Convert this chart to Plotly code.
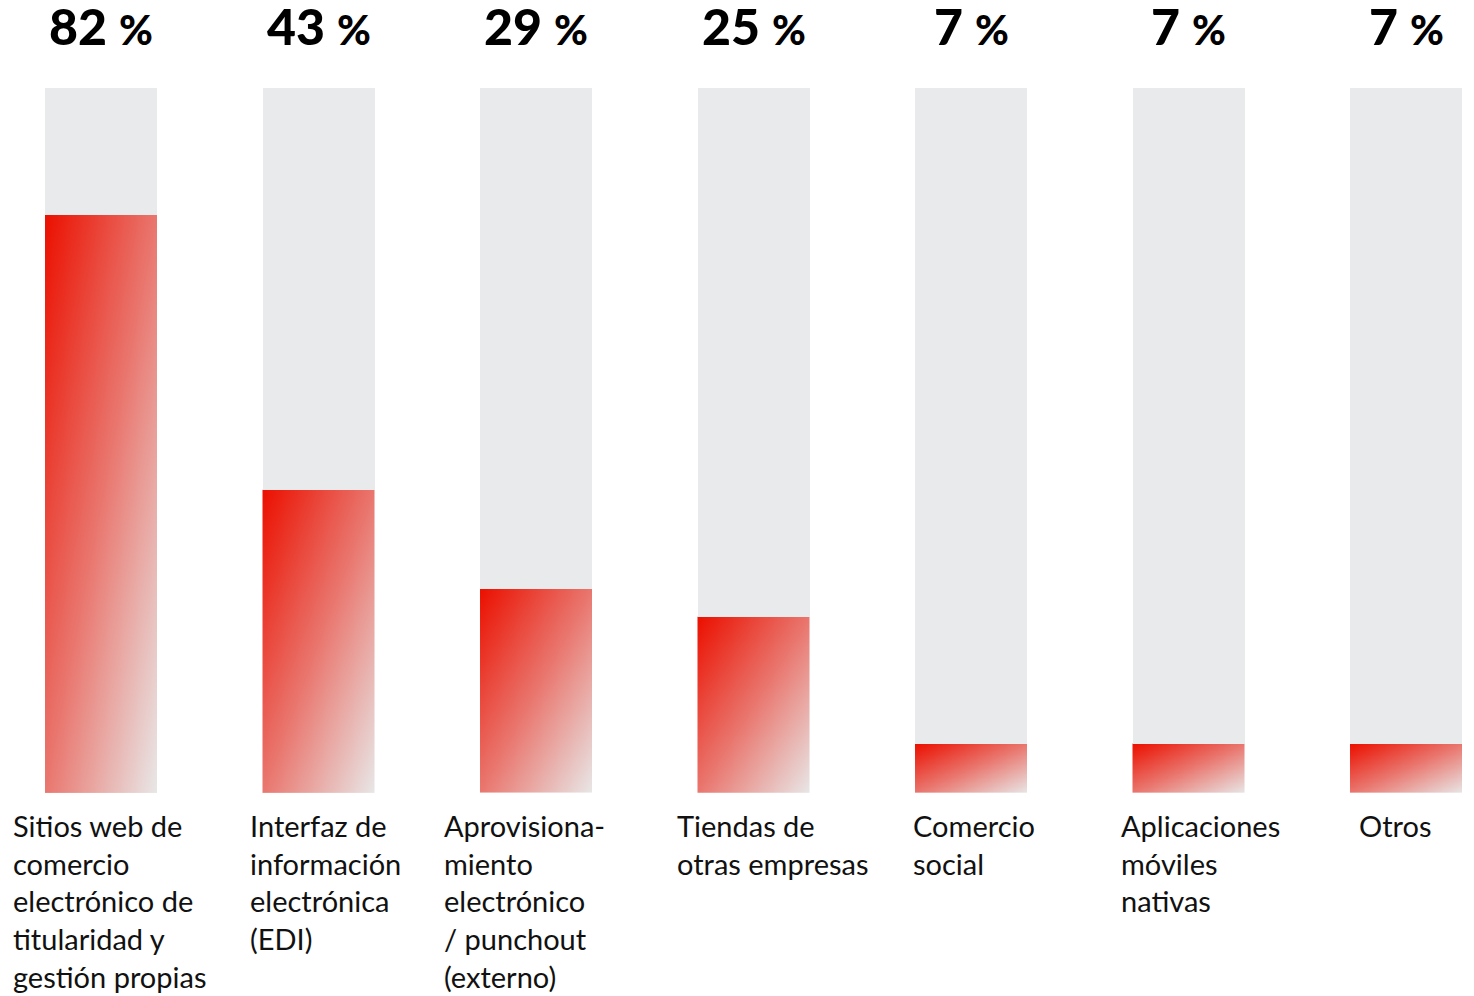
import numpy as np
import plotly.graph_objects as go

# Share of respondents per B2B sales channel (%)
categories = [
    "Sitios web de<br>comercio<br>electrónico de<br>titularidad y<br>gestión propias",
    "Interfaz de<br>información<br>electrónica<br>(EDI)",
    "Aprovisiona-<br>miento<br>electrónico<br>/ punchout<br>(externo)",
    "Tiendas de<br>otras empresas",
    "Comercio<br>social",
    "Aplicaciones<br>móviles<br>nativas",
    "Otros",
]
values = [82, 43, 29, 25, 7, 7, 7]
full_scale = 100

RED = "#EB1000"
LIGHT = "#E8E8E8"
TRACK = "#E9EAEC"
BAR_W = 0.515

xpos = list(range(len(values)))

fig = go.Figure()

# grey remainder of each column, stacked above the value
fig.add_trace(go.Bar(
    x=xpos, y=[full_scale - v for v in values], base=values, width=BAR_W,
    marker=dict(color=TRACK, line=dict(width=0)),
    hoverinfo="skip", showlegend=False,
))

# value columns: diagonal red -> light grey gradient
nx, ny = 30, 60
for xi, v in zip(xpos, values):
    xe = np.linspace(xi - BAR_W / 2, xi + BAR_W / 2, nx + 1)
    ye = np.linspace(0, v, ny + 1)
    u = (np.arange(nx) + 0.5) / nx                # left -> right
    w = 1 - (np.arange(ny) + 0.5) / ny            # top -> bottom (row 0 is bottom)
    z = (u[None, :] + w[:, None]) / 2
    fig.add_trace(go.Heatmap(
        x=xe, y=ye, z=z, zmin=0, zmax=1, zsmooth="best",
        colorscale=[[0, RED], [0.5, "#E9776F"], [1, LIGHT]],
        showscale=False, hoverinfo="skip",
    ))

# value labels above the columns
for xi, v in zip(xpos, values):
    fig.add_annotation(
        x=xi, y=full_scale, xref="x", yref="y",
        text=f"{v} <span style='font-size:41px'>%</span>",
        showarrow=False, yanchor="bottom", yshift=30,
        font=dict(family="Lato", size=50, color="#000000", weight=900),
    )

# category labels under the columns
label_shift = [8, 7, -12, 19, 3, 12, -11]
for xi, c, s in zip(xpos, categories, label_shift):
    fig.add_annotation(
        x=xi, y=0, xref="x", yref="y",
        text=c, showarrow=False, xanchor="center", yanchor="top",
        align="left", xshift=s, yshift=-13,
        font=dict(family="Lato", size=29, color="#111111"),
    )

fig.update_layout(
    width=1474, height=996,
    margin=dict(l=0, r=0, t=88, b=203),
    paper_bgcolor="white", plot_bgcolor="white",
    barmode="overlay", bargap=0,
    xaxis=dict(range=[-0.4644, 6.3126], visible=False, fixedrange=True),
    yaxis=dict(range=[0, full_scale], visible=False, fixedrange=True),
    showlegend=False,
)

fig.write_html("out.html")
